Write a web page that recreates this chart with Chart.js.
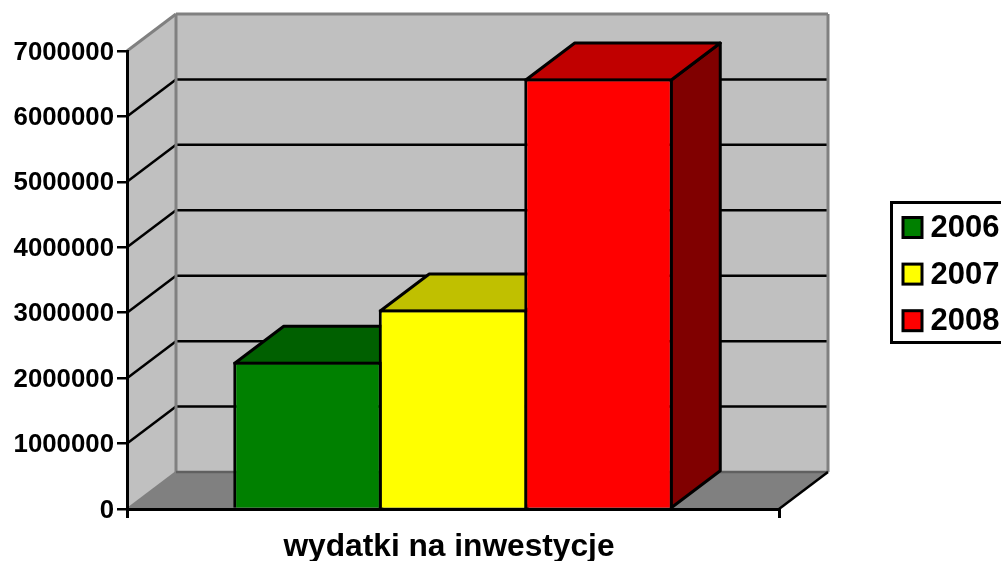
<!DOCTYPE html>
<html>
<head>
<meta charset="utf-8">
<title>wydatki na inwestycje</title>
<script src="https://cdn.jsdelivr.net/npm/chart.js@4"></script>
<style>
  html, body { margin: 0; padding: 0; background: #fff; overflow: hidden; }
  canvas { display: block; }
</style>
</head>
<body>
<canvas id="myChart" width="1001" height="561"></canvas>
<script>
const categories = ["wydatki na inwestycje"];
const seriesNames = ["2006", "2007", "2008"];
const values2006 = [2250000];
const values2007 = [3050000];
const values2008 = [6580000];
const yTickLabels = ["0", "1000000", "2000000", "3000000", "4000000", "5000000", "6000000", "7000000"];

const frontColors = ["#008000", "#ffff00", "#ff0000"];
const topColors = ["#006000", "#c0c000", "#c00000"];
const sideColors = ["#004000", "#808000", "#800000"];

const FONT = "'Liberation Sans', Arial, sans-serif";
const DX = 49;
const DY = -37;
const BAR_LINE = 3;

function poly(ctx, points, fill, stroke, width) {
  ctx.beginPath();
  points.forEach((p, i) => i ? ctx.lineTo(p[0], p[1]) : ctx.moveTo(p[0], p[1]));
  ctx.closePath();
  if (fill) {
    ctx.fillStyle = fill;
    ctx.fill();
  }
  if (stroke) {
    ctx.strokeStyle = stroke;
    ctx.lineWidth = width;
    ctx.lineJoin = "round";
    ctx.stroke();
  }
}

function segment(ctx, x1, y1, x2, y2, color, width) {
  ctx.beginPath();
  ctx.moveTo(x1, y1);
  ctx.lineTo(x2, y2);
  ctx.strokeStyle = color;
  ctx.lineWidth = width;
  ctx.stroke();
}

// back wall, side wall and floor, placed from the scales
const walls = {
  id: "walls",
  beforeDraw(chart) {
    const ctx = chart.ctx;
    const a = chart.chartArea;
    const y = chart.scales.y;
    ctx.save();
    poly(ctx, [[a.left + DX, a.top + DY], [a.right + DX, a.top + DY], [a.right + DX, a.bottom + DY], [a.left + DX, a.bottom + DY]], "#c0c0c0");
    poly(ctx, [[a.left, a.top], [a.left + DX, a.top + DY], [a.left + DX, a.bottom + DY], [a.left, a.bottom]], "#c0c0c0");
    poly(ctx, [[a.left, a.bottom], [a.left + DX, a.bottom + DY], [a.right + DX, a.bottom + DY], [a.right, a.bottom]], "#808080");

    for (let i = 1; i < yTickLabels.length - 1; i++) {
      const py = y.getPixelForValue(i * 1000000);
      segment(ctx, a.left, py, a.left + DX, py + DY, "#000", 2.5);
      segment(ctx, a.left + DX, py + DY, a.right + DX, py + DY, "#000", 2.5);
    }

    segment(ctx, a.left, a.top, a.left + DX, a.top + DY, "#808080", 3);
    segment(ctx, a.left + DX, a.top + DY, a.right + DX, a.top + DY, "#808080", 3);
    segment(ctx, a.right + DX, a.top + DY, a.right + DX, a.bottom + DY, "#808080", 3);
    segment(ctx, a.left + DX, a.top + DY, a.left + DX, a.bottom + DY, "#808080", 3);
    segment(ctx, a.left, a.bottom, a.left + DX, a.bottom + DY, "#808080", 2);
    segment(ctx, a.left + DX, a.bottom + DY, a.right + DX, a.bottom + DY, "#606060", 2.5);
    segment(ctx, a.right, a.bottom, a.right + DX, a.bottom + DY, "#000", 2.5);
    ctx.restore();
  }
};

// top and side faces of each bar, read from the bar elements
const barDepth = {
  id: "barDepth",
  beforeDatasetsDraw(chart) {
    const ctx = chart.ctx;
    const inset = BAR_LINE / 2;
    ctx.save();
    chart.data.datasets.forEach((ds, i) => {
      const bar = chart.getDatasetMeta(i).data[0];
      const left = bar.x - bar.width / 2 + inset;
      const right = bar.x + bar.width / 2 - inset;
      const top = bar.y + inset;
      poly(ctx, [[right, top], [right + DX, top + DY], [right + DX, bar.base + DY], [right, bar.base]], sideColors[i], "#000", BAR_LINE);
      poly(ctx, [[left, top], [left + DX, top + DY], [right + DX, top + DY], [right, top]], topColors[i], "#000", BAR_LINE);
    });
    ctx.restore();
  }
};

const boxLegend = {
  id: "boxLegend",
  afterDraw(chart) {
    const ctx = chart.ctx;
    ctx.save();
    ctx.strokeStyle = "#000";
    ctx.lineWidth = 3;
    ctx.strokeRect(891.5, 202.5, 120, 140);
    ctx.font = "bold 31px " + FONT;
    ctx.textBaseline = "middle";
    ctx.textAlign = "left";
    seriesNames.forEach((name, i) => {
      const cy = 227.5 + i * 46.6;
      ctx.fillStyle = frontColors[i];
      ctx.fillRect(903, cy - 10, 19, 20);
      ctx.strokeRect(903, cy - 10, 19, 20);
      ctx.fillStyle = "#000";
      ctx.fillText(name, 930.5, cy + 1);
    });
    ctx.restore();
  }
};

function render() {
  const ctx = document.getElementById("myChart").getContext("2d");
  new Chart(ctx, {
    type: "bar",
    data: {
      labels: categories,
      datasets: [
        { label: seriesNames[0], data: values2006, backgroundColor: frontColors[0] },
        { label: seriesNames[1], data: values2007, backgroundColor: frontColors[1] },
        { label: seriesNames[2], data: values2008, backgroundColor: frontColors[2] }
      ]
    },
    options: {
      responsive: false,
      animation: false,
      layout: { padding: { left: 0, top: 51, right: 222, bottom: 0 } },
      datasets: {
        bar: {
          categoryPercentage: 0.6695,
          barPercentage: 1.0206,
          borderColor: "#000",
          borderWidth: { top: BAR_LINE, left: BAR_LINE, right: BAR_LINE, bottom: 0 },
          borderSkipped: false
        }
      },
      plugins: {
        legend: { display: false },
        tooltip: { enabled: false }
      },
      scales: {
        x: {
          afterFit(scale) { scale.height = 52; },
          border: { color: "#000", width: 3, z: 1 },
          grid: { drawOnChartArea: false, drawTicks: true, color: "#000", lineWidth: 3, tickLength: 9 },
          ticks: {
            color: "#000",
            padding: 10,
            labelOffset: -4,
            maxRotation: 0,
            font: { family: FONT, size: 31.7, weight: "bold" }
          }
        },
        y: {
          min: 0,
          max: 7000000,
          afterFit(scale) { scale.width = 127; },
          border: { color: "#000", width: 3 },
          grid: { drawOnChartArea: false, drawTicks: true, color: "#000", lineWidth: 2.5, tickLength: 10 },
          ticks: {
            stepSize: 1000000,
            color: "#000",
            padding: 3,
            labelOffset: 1.5,
            font: { family: FONT, size: 25.8, weight: "bold" },
            callback: (value, index) => yTickLabels[index]
          }
        }
      }
    },
    plugins: [walls, barDepth, boxLegend]
  });
}

render();
</script>
</body>
</html>
